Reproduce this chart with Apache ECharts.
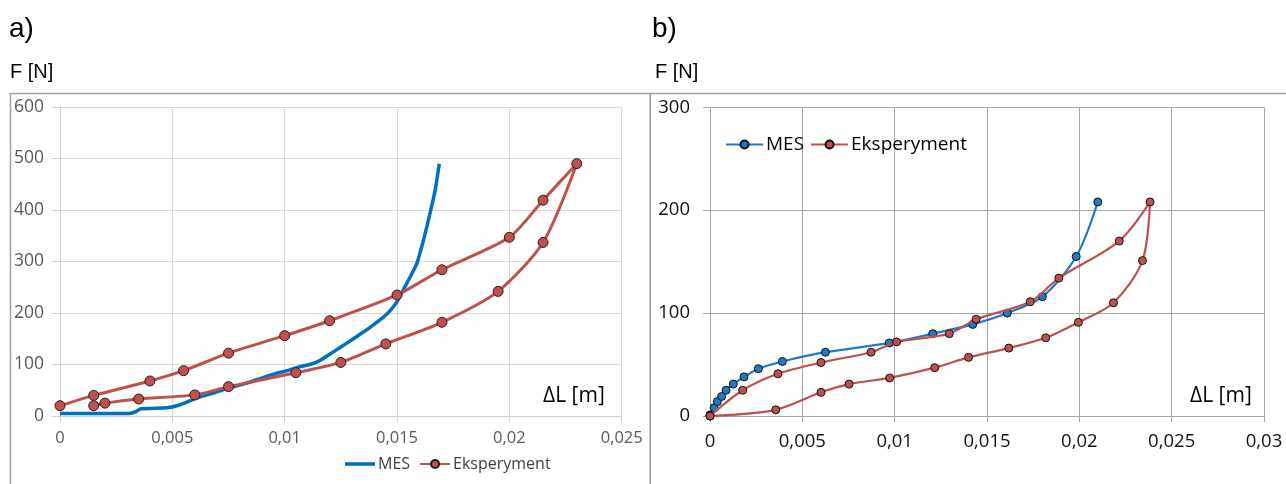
<!DOCTYPE html>
<html><head><meta charset="utf-8">
<script src="https://cdn.jsdelivr.net/npm/echarts@6/dist/echarts.min.js"></script>
<style>
html,body{margin:0;padding:0;background:#fff;width:1286px;height:484px;overflow:hidden;position:relative}
#a{position:absolute;left:0;top:0;width:651px;height:484px}
#b{position:absolute;left:651px;top:0;width:635px;height:484px}
</style></head><body>
<div id="a"></div><div id="b"></div>
<script>
// ---- data (a) ----
const mesA = [[0,5],[0.0031,5],[0.0034,9],[0.0036,14],[0.00475,16],[0.0052,20],[0.00564,27],[0.00623,37],[0.0068,44],[0.0074,53],[0.0080,60],[0.00846,66],[0.0090,74],[0.00965,83],[0.0102,89],[0.0107,96],[0.0112,101],[0.01158,108],[0.0120,120],[0.01247,133],[0.01306,150],[0.0138,172],[0.01455,198],[0.0150,222],[0.01515,235],[0.01544,258],[0.01588,296],[0.01618,342],[0.01647,394],[0.0167,439],[0.01688,490]];
const eksA = [[0,20],[0.0015,40],[0.004,68],[0.0055,88],[0.0075,122],[0.01,156],[0.012,185],[0.015,235],[0.017,284],[0.02,347],[0.0215,419],[0.023,490],[0.0215,337],[0.0195,242],[0.017,182],[0.0145,140],[0.0125,104],[0.0105,84],[0.0075,57],[0.006,41],[0.0035,33],[0.002,25],[0.0015,20]];
// ---- data (b) ----
const mesB = [[0,1],[0.00022,8],[0.0004,14],[0.00063,19],[0.00087,25],[0.00126,31],[0.00184,38],[0.00262,46],[0.00392,53],[0.00625,62],[0.00971,71],[0.01206,80],[0.01423,89],[0.0161,100],[0.018,116],[0.01983,155],[0.021,208]];
const eksB = [[0,0],[0.00177,25],[0.00368,41],[0.00601,52],[0.00872,62],[0.0101,72],[0.01296,80],[0.01441,94],[0.01734,111],[0.01889,134],[0.02216,170],[0.02383,208],[0.02342,151],[0.02185,110],[0.01995,91],[0.01818,76],[0.01618,66],[0.014,57],[0.01217,47],[0.00973,37],[0.00753,31],[0.00601,23],[0.00356,6],[0,0]];
const seriesNames = ['MES','Eksperyment'];
const panelLabels = ['a)','b)'];
const yName = 'F [N]';
const xName = 'ΔL [m]';

const fmt = v => String(+v.toFixed(4)).replace('.', ',');
const FONT = 'Open Sans';

const chartA = echarts.init(document.getElementById('a'), null, {renderer:'canvas'});
chartA.setOption({
  animation:false,
  graphic:[
    {type:'text', left:9, top:15, style:{text:panelLabels[0], font:'28px "Liberation Sans"', fill:'#000'}},
    {type:'text', left:10, top:62, style:{text:yName, font:'20px "Liberation Sans"', fill:'#000'}},
    {type:'line', shape:{x1:10,y1:93.5,x2:651,y2:93.5}, style:{stroke:'#a0a0a0', lineWidth:1.5}},
    {type:'line', shape:{x1:10.5,y1:93,x2:10.5,y2:484}, style:{stroke:'#a0a0a0', lineWidth:1.5}},
    {type:'line', shape:{x1:650.5,y1:93,x2:650.5,y2:484}, style:{stroke:'#999', lineWidth:2}},
    {type:'text', left:543, top:386, style:{text:xName, font:'21px "Open Sans"', fill:'#000'}}
  ],
  grid:{left:60, right:651-621.7, top:107, bottom:68},
  legend:{left:340, top:451, itemWidth:30, itemHeight:10, itemGap:9,
    textStyle:{fontFamily:FONT, fontSize:16, color:'#404040', padding:[0,0,0,-2]},
    data:[{name:seriesNames[0], icon:'path://M0,0H30V3.5H0Z'}, seriesNames[1]]},
  xAxis:{type:'value', min:0, max:0.025, interval:0.005,
    axisLine:{show:true, lineStyle:{color:'#d0d0d0'}},
    axisTick:{show:true, length:6, lineStyle:{color:'#d0d0d0'}},
    splitLine:{lineStyle:{color:'#d9d9d9', width:1}},
    axisLabel:{formatter:fmt, fontFamily:FONT, fontSize:16.5, color:'#595959', margin:14}},
  yAxis:{type:'value', min:0, max:600, interval:100,
    axisLine:{show:true, lineStyle:{color:'#d0d0d0'}},
    axisTick:{show:true, length:8, lineStyle:{color:'#d0d0d0'}},
    splitLine:{lineStyle:{color:'#d9d9d9', width:1}},
    axisLabel:{fontFamily:FONT, fontSize:17.5, color:'#595959', margin:16}},
  series:[
    {name:seriesNames[0], type:'line', data:mesA, smooth:0.2, symbol:'none', lineStyle:{color:'#0070C0', width:3.5}, itemStyle:{color:'#0070C0'}, z:2},
    {name:seriesNames[1], type:'line', data:eksA, smooth:0.25, symbol:'circle', symbolSize:10,
      lineStyle:{color:'#C0504D', width:3}, itemStyle:{color:'#C0504D', borderColor:'#2a1a1a', borderWidth:1}, z:3}
  ]
});

const chartB = echarts.init(document.getElementById('b'), null, {renderer:'canvas'});
chartB.setOption({
  animation:false,
  graphic:[
    {type:'text', left:1, top:15, style:{text:panelLabels[1], font:'28px "Liberation Sans"', fill:'#000'}},
    {type:'text', left:4, top:62, style:{text:yName, font:'20px "Liberation Sans"', fill:'#000'}},
    {type:'line', shape:{x1:0,y1:93.5,x2:635,y2:93.5}, style:{stroke:'#a0a0a0', lineWidth:1.5}},
    {type:'text', left:1190-651, top:386, style:{text:xName, font:'21px "Open Sans"', fill:'#000'}}
  ],
  grid:{left:710-651, right:1286-1264, top:107.3, bottom:68},
  legend:{left:69, top:130, itemWidth:37, itemHeight:10, itemGap:6,
    textStyle:{fontFamily:FONT, fontSize:19, color:'#000', padding:[0,0,0,-2]},
    data:seriesNames},
  xAxis:{type:'value', min:0, max:0.03, interval:0.005,
    axisLine:{show:true, lineStyle:{color:'#a6a6a6'}},
    axisTick:{show:true, length:6, lineStyle:{color:'#a6a6a6'}},
    splitLine:{lineStyle:{color:'#a6a6a6', width:1}},
    axisLabel:{formatter:fmt, fontFamily:FONT, fontSize:18.5, color:'#111', margin:16}},
  yAxis:{type:'value', min:0, max:300, interval:100,
    axisLine:{show:true, lineStyle:{color:'#a6a6a6'}},
    axisTick:{show:true, length:7, lineStyle:{color:'#a6a6a6'}},
    splitLine:{lineStyle:{color:'#a6a6a6', width:1}},
    axisLabel:{fontFamily:FONT, fontSize:18.5, color:'#111', margin:20}},
  series:[
    {name:seriesNames[0], type:'line', data:mesB, smooth:0.3, symbol:'circle', symbolSize:8,
      lineStyle:{color:'#1F78C8', width:2.2}, itemStyle:{color:'#1F78C8', borderColor:'#111', borderWidth:1}, z:2},
    {name:seriesNames[1], type:'line', data:eksB, smooth:0.3, symbol:'circle', symbolSize:8,
      lineStyle:{color:'#C0504D', width:2.2}, itemStyle:{color:'#C0504D', borderColor:'#111', borderWidth:1}, z:3}
  ]
});
</script>
</body></html>
